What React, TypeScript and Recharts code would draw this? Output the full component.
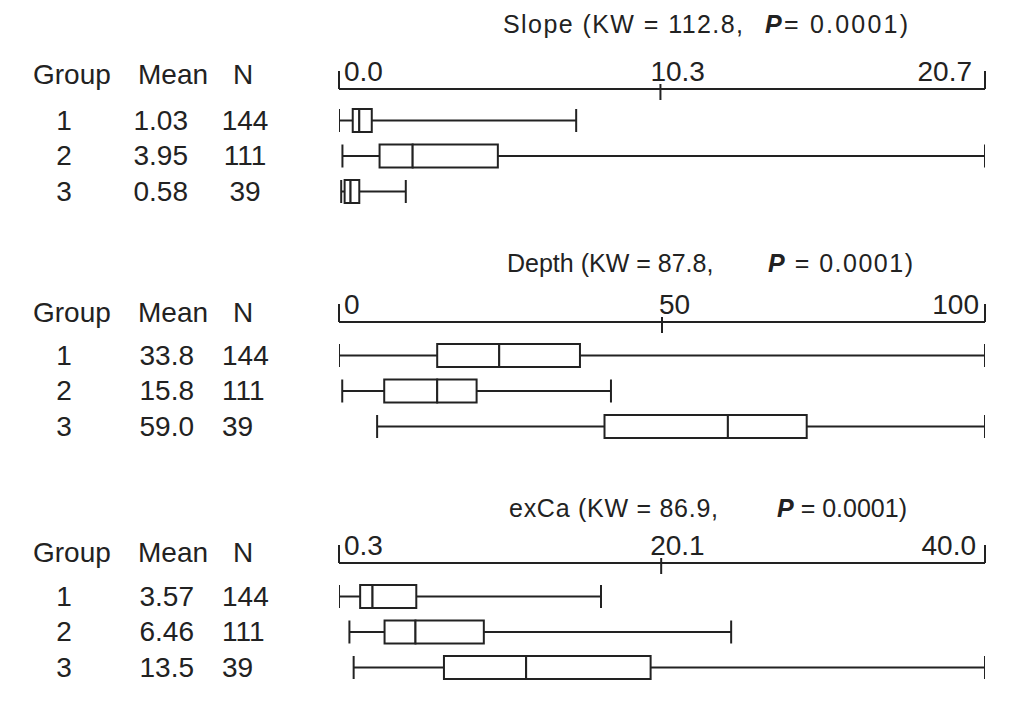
import { Bar, BarChart, XAxis, YAxis } from "recharts";

const INK = "#222";
const FONT = "'Liberation Sans', Arial, Helvetica, sans-serif";
const AXIS_H = 50;
const BAND = 35.5;

const GROUPS = ["1", "2", "3"];
const N_COUNTS = [144, 111, 39];

const SLOPE_MEAN = ["1.03", "3.95", "0.58"];
const SLOPE_LO = [0, 0.11, 0.07];
const SLOPE_Q1 = [0.44, 1.3, 0.18];
const SLOPE_MED = [0.65, 2.36, 0.37];
const SLOPE_Q3 = [1.05, 5.09, 0.65];
const SLOPE_HI = [7.6, 20.7, 2.14];
const SLOPE_TICKS = [0, 10.3, 20.7];
const SLOPE_TICK_LABELS = ["0.0", "10.3", "20.7"];

const DEPTH_MEAN = ["33.8", "15.8", "59.0"];
const DEPTH_LO = [0, 0.5, 5.9];
const DEPTH_Q1 = [15.2, 7.0, 41.1];
const DEPTH_MED = [24.8, 15.2, 60.2];
const DEPTH_Q3 = [37.3, 21.3, 72.4];
const DEPTH_HI = [100, 42.1, 100];
const DEPTH_TICKS = [0, 50, 100];
const DEPTH_TICK_LABELS = ["0", "50", "100"];

const EXCA_MEAN = ["3.57", "6.46", "13.5"];
const EXCA_LO = [0.3, 0.94, 1.2];
const EXCA_Q1 = [1.6, 3.1, 6.75];
const EXCA_MED = [2.36, 5.0, 11.8];
const EXCA_Q3 = [5.05, 9.2, 19.45];
const EXCA_HI = [16.4, 24.4, 40.0];
const EXCA_TICKS = [0.3, 20.1, 40.0];
const EXCA_TICK_LABELS = ["0.3", "20.1", "40.0"];

const line = { stroke: INK, strokeWidth: 2 };
const txt = { fontSize: 28, fontFamily: FONT, fill: INK };

function WhiskerLow(props: any) {
  const { x, y, width, height } = props;
  const cy = y + height / 2;
  return (
    <g>
      <line x1={x} x2={x + width} y1={cy} y2={cy} {...line} />
      <line x1={x} x2={x} y1={y} y2={y + height} {...line} />
    </g>
  );
}

function WhiskerHigh(props: any) {
  const { x, y, width, height } = props;
  const cy = y + height / 2;
  return (
    <g>
      <line x1={x} x2={x + width} y1={cy} y2={cy} {...line} />
      <line x1={x + width} x2={x + width} y1={y} y2={y + height} {...line} />
    </g>
  );
}

function BoxPart(props: any) {
  const { x, y, width, height } = props;
  return <rect x={x} y={y} width={width} height={height} fill="#fff" {...line} />;
}

function AxisTick(props: any) {
  const { x, index, labels, midDx, rightDx } = props;
  const last = index === labels.length - 1;
  const mid = index > 0 && !last;
  return (
    <g>
      {mid ? (
        <line x1={x} x2={x} y1={AXIS_H - 5} y2={AXIS_H + 11} {...line} />
      ) : (
        <line x1={x} x2={x} y1={AXIS_H - 18} y2={AXIS_H} {...line} />
      )}
      <text
        x={last ? x + rightDx : mid ? x + midDx : x + 5}
        y={AXIS_H - 8}
        textAnchor={last ? "end" : "start"}
        {...txt}
      >
        {labels[index]}
      </text>
    </g>
  );
}

function TableTick(props: any) {
  const { y, index, mean, meanRight, nCenter } = props;
  const ty = y + 9;
  return (
    <g>
      <text x={64} y={ty} textAnchor="middle" {...txt}>{GROUPS[index]}</text>
      <text x={meanRight} y={ty} textAnchor="end" {...txt}>{mean[index]}</text>
      {nCenter ? (
        <text x={245} y={ty} textAnchor="middle" {...txt}>{N_COUNTS[index]}</text>
      ) : (
        <text x={222} y={ty} textAnchor="start" {...txt}>{N_COUNTS[index]}</text>
      )}
    </g>
  );
}

type PanelProps = {
  axisY: number;
  padTop: number;
  mean: string[];
  meanRight: number;
  nCenter?: boolean;
  lo: number[];
  q1: number[];
  med: number[];
  q3: number[];
  hi: number[];
  ticks: number[];
  tickLabels: string[];
  midDx: number;
  rightDx: number;
};

function BoxPanel(p: PanelProps) {
  const data = GROUPS.map((g, i) => ({
    group: g,
    base: p.lo[i],
    wLo: p.q1[i] - p.lo[i],
    boxA: p.med[i] - p.q1[i],
    boxB: p.q3[i] - p.med[i],
    wHi: p.hi[i] - p.q3[i],
  }));
  const plotH = p.padTop + 3 * BAND;
  return (
    <div style={{ position: "absolute", left: 0, top: p.axisY - AXIS_H }}>
      <BarChart
        layout="vertical"
        width={1026}
        height={AXIS_H + plotH + 2}
        data={data}
        margin={{ top: 0, right: 41, bottom: 2, left: 338 }}
        barSize={23}
      >
        <XAxis
          type="number"
          orientation="top"
          domain={[p.ticks[0], p.ticks[p.ticks.length - 1]]}
          ticks={p.ticks}
          allowDataOverflow
          interval={0}
          height={AXIS_H}
          axisLine={{ stroke: INK, strokeWidth: 2 }}
          tickLine={false}
          tick={(t: any) => <AxisTick {...t} labels={p.tickLabels} midDx={p.midDx} rightDx={p.rightDx} />}
        />
        <YAxis
          type="category"
          dataKey="group"
          width={1}
          padding={{ top: p.padTop, bottom: 0 }}
          axisLine={false}
          tickLine={false}
          tick={(t: any) => <TableTick {...t} mean={p.mean} meanRight={p.meanRight} nCenter={p.nCenter} />}
        />
        <Bar dataKey="base" stackId="b" fill="none" isAnimationActive={false} shape={() => <g />} />
        <Bar dataKey="wLo" stackId="b" isAnimationActive={false} shape={(s: any) => <WhiskerLow {...s} />} />
        <Bar dataKey="boxA" stackId="b" isAnimationActive={false} shape={(s: any) => <BoxPart {...s} />} />
        <Bar dataKey="boxB" stackId="b" isAnimationActive={false} shape={(s: any) => <BoxPart {...s} />} />
        <Bar dataKey="wHi" stackId="b" isAnimationActive={false} shape={(s: any) => <WhiskerHigh {...s} />} />
      </BarChart>
    </div>
  );
}

function Title(props: { x: number; w?: number; px: number; pw?: number; y: number; name: string; pText: string }) {
  const { x, w, px, pw, y, name, pText } = props;
  return (
    <g fontSize={25} fontFamily={FONT} fill={INK}>
      <text x={x} y={y} textLength={w}>{name}</text>
      <text x={px} y={y} textLength={pw}>
        <tspan fontWeight="bold" fontStyle="italic">P</tspan>
        <tspan>{pText}</tspan>
      </text>
    </g>
  );
}

function Header({ y }: { y: number }) {
  return (
    <g {...txt}>
      <text x={33} y={y}>Group</text>
      <text x={138} y={y}>Mean</text>
      <text x={233} y={y}>N</text>
    </g>
  );
}

export default function App() {
  return (
    <div style={{ position: "absolute", left: 0, top: 0, width: 1026, height: 704, background: "#fff" }}>
      <BoxPanel axisY={89} padTop={14} mean={SLOPE_MEAN} meanRight={188} nCenter lo={SLOPE_LO} q1={SLOPE_Q1} med={SLOPE_MED} q3={SLOPE_Q3} hi={SLOPE_HI} ticks={SLOPE_TICKS} tickLabels={SLOPE_TICK_LABELS} midDx={-10} rightDx={-13} />
      <BoxPanel axisY={322} padTop={16} mean={DEPTH_MEAN} meanRight={194} lo={DEPTH_LO} q1={DEPTH_Q1} med={DEPTH_MED} q3={DEPTH_Q3} hi={DEPTH_HI} ticks={DEPTH_TICKS} tickLabels={DEPTH_TICK_LABELS} midDx={-3} rightDx={-6} />
      <BoxPanel axisY={563} padTop={16} mean={EXCA_MEAN} meanRight={194} lo={EXCA_LO} q1={EXCA_Q1} med={EXCA_MED} q3={EXCA_Q3} hi={EXCA_HI} ticks={EXCA_TICKS} tickLabels={EXCA_TICK_LABELS} midDx={-11} rightDx={-9} />
      <svg width={1026} height={704} style={{ position: "absolute", left: 0, top: 0, pointerEvents: "none" }}>
        <Title x={503} w={240} px={765} pw={143} y={33} name="Slope (KW = 112.8," pText="= 0.0001)" />
        <Title x={507} px={768} pw={145} y={272} name="Depth (KW = 87.8," pText=" = 0.0001)" />
        <Title x={509} w={209} px={777} y={517} name="exCa (KW = 86.9," pText=" = 0.0001)" />
        <Header y={84} />
        <Header y={322} />
        <Header y={562} />
      </svg>
    </div>
  );
}
